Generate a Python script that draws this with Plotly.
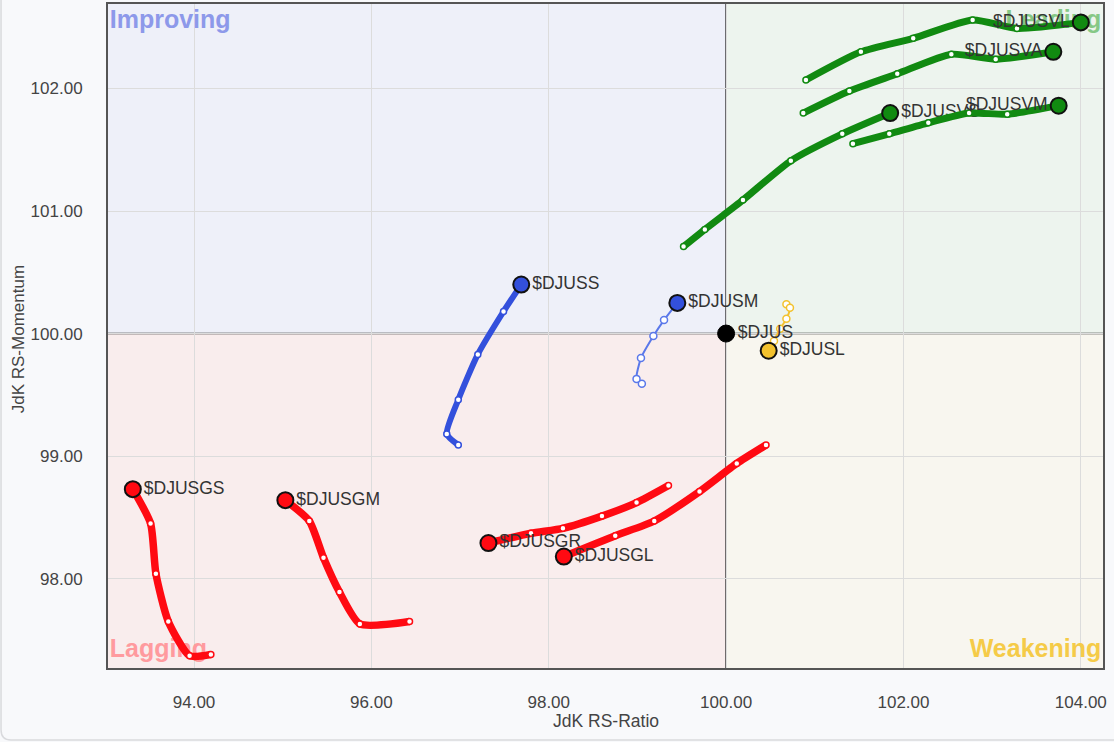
import plotly.graph_objects as go

# ---- data (JdK RS-Ratio / RS-Momentum), oldest -> newest (head) ----
vl_x = [100.90, 101.52, 102.11, 102.78, 103.28, 104.00]
vl_y = [102.07, 102.30, 102.41, 102.56, 102.49, 102.54]

va_x = [100.87, 101.39, 101.93, 102.54, 103.04, 103.69]
va_y = [101.80, 101.98, 102.12, 102.28, 102.24, 102.30]

vm_x = [101.43, 101.84, 102.28, 102.74, 103.17, 103.75]
vm_y = [101.55, 101.63, 101.72, 101.80, 101.79, 101.86]

vs_x = [99.52, 99.76, 100.19, 100.73, 101.31, 101.85]
vs_y = [100.71, 100.85, 101.09, 101.41, 101.63, 101.80]

ss_x = [96.98, 96.85, 96.98, 97.20, 97.49, 97.69]
ss_y = [99.09, 99.18, 99.46, 99.83, 100.18, 100.40]

sm_x = [99.05, 98.99, 99.04, 99.18, 99.30, 99.45]
sm_y = [99.59, 99.63, 99.80, 99.98, 100.11, 100.25]

sl_x = [100.68, 100.72, 100.68, 100.61, 100.54, 100.48]
sl_y = [100.24, 100.21, 100.12, 100.04, 99.94, 99.86]

gs_x = [94.19, 93.95, 93.71, 93.57, 93.51, 93.31]
gs_y = [97.38, 97.37, 97.65, 98.04, 98.45, 98.73]

gm_x = [96.43, 95.87, 95.64, 95.46, 95.30, 95.03]
gm_y = [97.65, 97.63, 97.89, 98.17, 98.47, 98.64]

gr_x = [99.35, 98.99, 98.60, 98.16, 97.80, 97.32]
gr_y = [98.76, 98.62, 98.51, 98.41, 98.37, 98.29]

gl_x = [100.45, 100.12, 99.70, 99.19, 98.75, 98.17]
gl_y = [99.09, 98.94, 98.71, 98.47, 98.35, 98.18]

bench_x = [100.0]
bench_y = [100.0]

x_ticks = [94, 96, 98, 100, 102, 104]
y_ticks = [98, 99, 100, 101, 102]

GREEN = "#118a11"
RED = "#ff0a12"
BLUE = "#3350dc"
BLUE_L = "#5a78ea"
YELLOW = "#f3c22e"

# name, xs, ys, line colour, head colour, line width, label side
series = [
    ("$DJUSGS", gs_x, gs_y, RED, RED, 7.5, "middle right"),
    ("$DJUSGM", gm_x, gm_y, RED, RED, 7.5, "middle right"),
    ("$DJUSGR", gr_x, gr_y, RED, RED, 7.5, "middle right"),
    ("$DJUSGL", gl_x, gl_y, RED, RED, 7.5, "middle right"),
    ("$DJUSS", ss_x, ss_y, BLUE, BLUE, 6, "middle right"),
    ("$DJUSM", sm_x, sm_y, BLUE_L, BLUE, 2, "middle right"),
    ("$DJUSL", sl_x, sl_y, YELLOW, YELLOW, 2, "middle right"),
    ("$DJUSVS", vs_x, vs_y, GREEN, GREEN, 7, "middle right"),
    ("$DJUSVM", vm_x, vm_y, GREEN, GREEN, 7, "middle left"),
    ("$DJUSVA", va_x, va_y, GREEN, GREEN, 7, "middle left"),
    ("$DJUSVL", vl_x, vl_y, GREEN, GREEN, 7, "middle left"),
]

XMIN, XMAX = 93.03, 104.25
YMIN, YMAX = 97.27, 102.69
FONT = "Liberation Sans, Arial"

fig = go.Figure()

# quadrant names (drawn first so trails sit above them)
quad = [
    ("Improving", XMIN + 0.02, 102.545, "middle right", "#8d99ea"),
    ("Leading", XMAX - 0.02, 102.545, "middle left", "#86c886"),
    ("Lagging", XMIN + 0.02, 97.41, "middle right", "#ff9a9e"),
    ("Weakening", XMAX - 0.02, 97.41, "middle left", "#f5cb48"),
]
for txt, qx, qy, pos, col in quad:
    fig.add_trace(go.Scatter(
        x=[qx], y=[qy], mode="text", text=[txt], textposition=pos,
        textfont=dict(family=FONT, size=25, color=col, weight="bold"),
        hoverinfo="skip", showlegend=False))

for name, xs, ys, lc, hc, lw, pos in series:
    fig.add_trace(go.Scatter(
        x=xs, y=ys, mode="lines+markers",
        line=dict(color=lc, width=lw, shape="spline", smoothing=0.6),
        marker=dict(size=6 if lw > 3 else 7, color="white",
                    line=dict(color=lc, width=1.5)),
        hoverinfo="skip", showlegend=False))
    fig.add_trace(go.Scatter(
        x=[xs[-1]], y=[ys[-1]], mode="markers+text", text=[name],
        textposition=pos,
        textfont=dict(family=FONT, size=17.5, color="#333333"),
        marker=dict(size=16, color=hc, line=dict(color="#111111", width=2)),
        hoverinfo="skip", showlegend=False))

fig.add_trace(go.Scatter(
    x=bench_x, y=bench_y, mode="markers+text", text=["$DJUS"],
    textposition="middle right",
    textfont=dict(family=FONT, size=17.5, color="#333333"),
    marker=dict(size=17, color="#000000", line=dict(color="#000000", width=1)),
    hoverinfo="skip", showlegend=False))

shapes = [
    dict(type="rect", x0=XMIN, x1=100, y0=100, y1=YMAX, fillcolor="#eef0f9", line_width=0, layer="below"),
    dict(type="rect", x0=100, x1=XMAX, y0=100, y1=YMAX, fillcolor="#edf4ee", line_width=0, layer="below"),
    dict(type="rect", x0=XMIN, x1=100, y0=YMIN, y1=100, fillcolor="#f9eded", line_width=0, layer="below"),
    dict(type="rect", x0=100, x1=XMAX, y0=YMIN, y1=100, fillcolor="#f8f6ef", line_width=0, layer="below"),
    dict(type="line", x0=100, x1=100, y0=YMIN, y1=YMAX, line=dict(color="#222222", width=1.5), layer="below"),
    dict(type="line", x0=XMIN, x1=XMAX, y0=100, y1=100, line=dict(color="#222222", width=1.5), layer="below"),
    # faint rounded container edge (left + bottom)
    dict(type="path", xref="paper", yref="paper",
         path="M -0.1075,1.01 L -0.1075,-0.093 Q -0.1075,-0.1084 -0.0975,-0.1084 L 1.02,-0.1084",
         line=dict(color="#d9dadd", width=1.5)),
]

fig.update_layout(
    width=1114, height=742,
    margin=dict(l=108, r=11, t=4, b=74, autoexpand=False),
    paper_bgcolor="#f8f9fb",
    plot_bgcolor="#ffffff",
    shapes=shapes,
    showlegend=False,
    font=dict(family=FONT, color="#444444", size=16),
    annotations=[
        dict(text="JdK RS-Ratio", xref="paper", yref="paper", x=0.5, y=-0.080,
             showarrow=False, font=dict(size=17.5, color="#444444"), yanchor="middle"),
        dict(text="JdK RS-Momentum", xref="paper", yref="paper", x=-0.0905, y=0.495,
             textangle=-90, showarrow=False, font=dict(size=17, color="#444444"),
             xanchor="center", yanchor="middle"),
    ],
)
fig.update_xaxes(range=[XMIN, XMAX], tickvals=x_ticks, tickformat=".2f", automargin=False,
                 showgrid=True, gridcolor="#dcdcdc", gridwidth=1, zeroline=False,
                 showline=True, mirror=True, linecolor="#555555", linewidth=2,
                 ticks="", ticklabelstandoff=18, tickfont=dict(size=17, color="#444444"))
fig.update_yaxes(range=[YMIN, YMAX], tickvals=y_ticks, tickformat=".2f", automargin=False,
                 showgrid=True, gridcolor="#dcdcdc", gridwidth=1, zeroline=False,
                 showline=True, mirror=True, linecolor="#555555", linewidth=2,
                 ticks="", ticklabelstandoff=20, tickfont=dict(size=17, color="#444444"))

fig.write_html("out.html", config={"displayModeBar": False},
               post_script="document.body.style.margin='0';document.body.style.background='#f8f9fb';")
